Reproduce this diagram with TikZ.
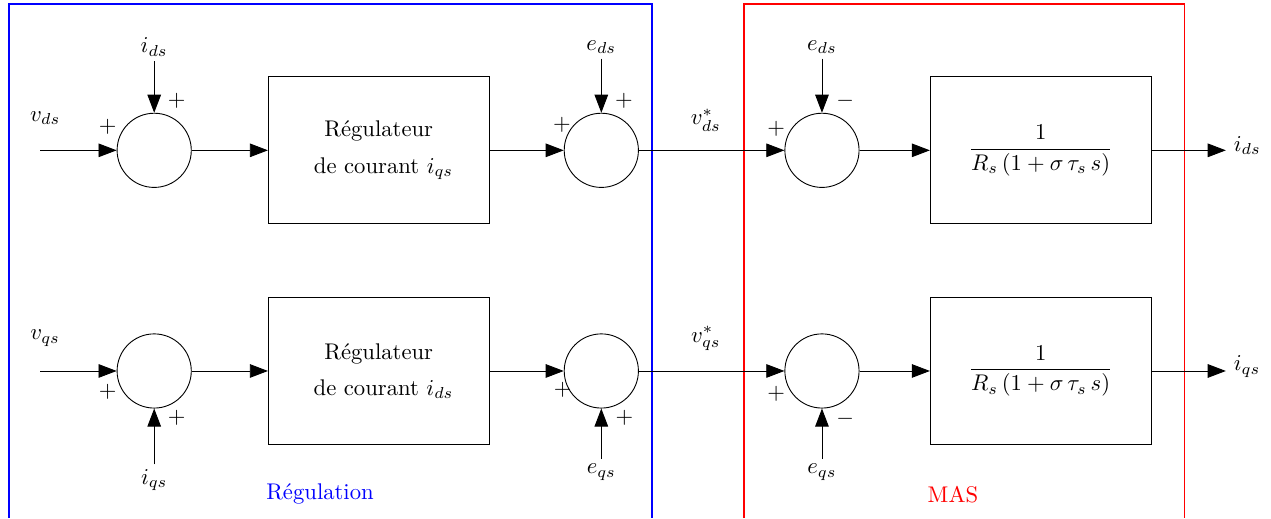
\documentclass[tikz,border=0pt]{standalone}
\usepackage{amsmath}
\usetikzlibrary{calc, positioning, arrows.meta}

\begin{document}
\begin{tikzpicture}[
  x=1cm, y=1cm,
  somme/.style={circle, draw, minimum size=1.15cm, inner sep=0pt},
  bloc/.style={
    rectangle, draw,
    minimum width=3.42cm, minimum height=2.28cm,
    align=center
  },
  fleche/.style={-{Triangle[length=8pt, width=6pt]}},
  lbl/.style={inner sep=2pt},
  sgn/.style={inner sep=0pt},
  cadre/.style={line width=0.7pt}
]

\useasboundingbox (0,0) rectangle (19.70,-8.03);

%% ─────────────────────────────────────────────────────────
%% Cadres : Régulation (bleu) et MAS (rouge)
%% ─────────────────────────────────────────────────────────
\draw[cadre, draw=blue] (0.14,-8.03) -- (0.14,-0.06) -- (10.11,-0.06) -- (10.11,-8.03);
\draw[cadre, draw=red]  (11.53,-8.03) -- (11.53,-0.06) -- (18.36,-0.06) -- (18.36,-8.03);

\node[text=blue] (REG) at (4.96,-7.66) {Régulation};
\node[text=red]  (MAS) at (14.77,-7.66) {MAS};

%% AXE d
\node[somme] (S1) at (2.39,  -2.33) {};
\node[bloc]  (R1) at (5.87,  -2.33) {Régulateur\\[4pt] \hspace*{0.15cm}de courant $i_{qs}$};
\node[somme] (S2) at (9.32,  -2.33) {};
\node[somme] (S3) at (12.74, -2.33) {};
\node[bloc]  (G1) at (16.13, -2.33) {$\dfrac{1}{R_s\,(1+\sigma\,\tau_s\,s)}$};

\coordinate (E1) at (0.62, -2.33);
\coordinate (O1) at (19.0, -2.33);

\node[lbl] (vds)  at (0.70,  -1.83) {$v_{ds}$};
\node[lbl] (ids)  at (2.39,  -0.73) {$i_{ds}$};
\node[lbl] (eds1) at (9.32,  -0.73) {$e_{ds}$};
\node[lbl] (eds2) at (12.74, -0.73) {$e_{ds}$};
\node[lbl] (vdsr) at (10.94, -1.86) {$v^{*}_{ds}$};
\node[anchor=west, yshift=2pt] (idso) at (O1) {$i_{ds}$};

\node[sgn] (s1a) at ($(S1)+(0.35,0.76)$)  {$+$};
\node[sgn] (s1b) at ($(S1)+(-0.72,0.36)$) {$+$};
\node[sgn] (s2a) at ($(S2)+(0.35,0.76)$)  {$+$};
\node[sgn] (s2b) at ($(S2)+(-0.61,0.39)$) {$+$};
\node[sgn] (s3a) at ($(S3)+(0.36,0.76)$)  {$-$};
\node[sgn] (s3b) at ($(S3)+(-0.71,0.34)$) {$+$};

\draw[fleche] (E1) -- (S1);
\draw[fleche] (ids) -- (S1);
\draw[fleche] (S1) -- (R1);
\draw[fleche] (R1) -- (S2);
\draw[fleche] (eds1) -- (S2);
\draw[fleche] (S2) -- (S3);
\draw[fleche] (eds2) -- (S3);
\draw[fleche] (S3) -- (G1);
\draw[fleche] (G1) -- (O1);

%% AXE q
\node[somme] (S4) at (2.39,  -5.75) {};
\node[bloc]  (R2) at (5.87,  -5.75) {Régulateur\\[4pt] \hspace*{0.15cm}de courant $i_{ds}$};
\node[somme] (S5) at (9.32,  -5.75) {};
\node[somme] (S6) at (12.74, -5.75) {};
\node[bloc]  (G2) at (16.13, -5.75) {$\dfrac{1}{R_s\,(1+\sigma\,\tau_s\,s)}$};

\coordinate (E2) at (0.62, -5.75);
\coordinate (O2) at (19.0, -5.75);

\node[lbl] (vqs)  at (0.70,  -5.24) {$v_{qs}$};
\node[lbl] (iqs)  at (2.39,  -7.44) {$i_{qs}$};
\node[lbl] (eqs1) at (9.32,  -7.32) {$e_{qs}$};
\node[lbl] (eqs2) at (12.74, -7.32) {$e_{qs}$};
\node[lbl] (vqsr) at (10.94, -5.25) {$v^{*}_{qs}$};
\node[anchor=west, yshift=2pt] (iqso) at (O2) {$i_{qs}$};

\node[sgn] (s4a) at ($(S4)+(-0.72,-0.33)$) {$+$};
\node[sgn] (s4b) at ($(S4)+(0.35,-0.72)$)  {$+$};
\node[sgn] (s5a) at ($(S5)+(-0.60,-0.29)$) {$+$};
\node[sgn] (s5b) at ($(S5)+(0.36,-0.72)$)  {$+$};
\node[sgn] (s6a) at ($(S6)+(-0.71,-0.36)$) {$+$};
\node[sgn] (s6b) at ($(S6)+(0.36,-0.74)$)  {$-$};

\draw[fleche] (E2) -- (S4);
\draw[fleche] (iqs) -- (S4);
\draw[fleche] (S4) -- (R2);
\draw[fleche] (R2) -- (S5);
\draw[fleche] (eqs1) -- (S5);
\draw[fleche] (S5) -- (S6);
\draw[fleche] (eqs2) -- (S6);
\draw[fleche] (S6) -- (G2);
\draw[fleche] (G2) -- (O2);

\end{tikzpicture}
\end{document}
